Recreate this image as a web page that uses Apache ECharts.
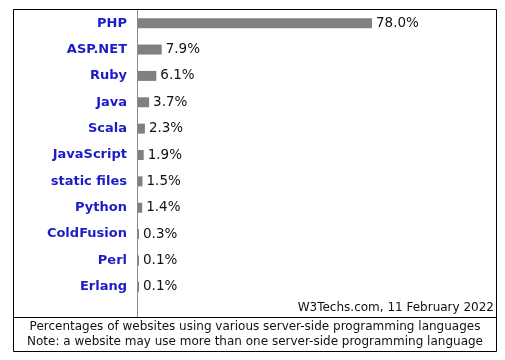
<!DOCTYPE html>
<html>
<head>
<meta charset="utf-8">
<script src="https://cdn.jsdelivr.net/npm/echarts@6/dist/echarts.min.js"></script>
<style>html,body{margin:0;padding:0;background:#fff}#c{width:505px;height:360px}</style>
</head>
<body>
<div id="c"></div>
<script>
const categories = ['PHP','ASP.NET','Ruby','Java','Scala','JavaScript','static files','Python','ColdFusion','Perl','Erlang'];
const shares = [78.0, 7.9, 6.1, 3.7, 2.3, 1.9, 1.5, 1.4, 0.3, 0.1, 0.1];
const sourceNote = 'W3Techs.com, 11 February 2022';
const captionLines = ['Percentages of websites using various server-side programming languages',
                      'Note: a website may use more than one server-side programming language'];

const FONT = 'DejaVu Sans';
const chart = echarts.init(document.getElementById('c'), null, {renderer:'canvas'});
chart.setOption({
  animation: false,
  backgroundColor: '#ffffff',
  grid: {left: 138, right: 7, top: 10, bottom: 60, containLabel: false},
  xAxis: {type: 'value', min: 0, max: 120, show: false},
  yAxis: {
    type: 'category', data: categories, inverse: true,
    axisLine: {show: false}, axisTick: {show: false}, splitLine: {show: false},
    axisLabel: {fontFamily: FONT, fontWeight: 'bold', fontSize: 13, color: '#1c1cc8', margin: 11}
  },
  series: [{
    type: 'bar', data: shares, barWidth: 10, barMinHeight: 1,
    itemStyle: {color: '#808080'},
    label: {show: true, position: 'right', distance: 4, fontFamily: FONT, fontSize: 13.5, color: '#111',
      formatter: p => p.value.toFixed(1) + '%'}
  }],
  graphic: [
    {type: 'rect', shape: {x: 13.5, y: 9.5, width: 483, height: 342}, style: {fill: 'none', stroke: '#000', lineWidth: 1}, silent: true},
    {type: 'line', shape: {x1: 13.5, y1: 317.5, x2: 496.5, y2: 317.5}, style: {stroke: '#000', lineWidth: 1}, silent: true},
    {type: 'line', shape: {x1: 137.5, y1: 10, x2: 137.5, y2: 317}, style: {stroke: '#8a8a8a', lineWidth: 1}, silent: true},
    {type: 'text', x: 494, y: 308, style: {text: sourceNote, font: '12px "DejaVu Sans"', fill: '#111', textAlign: 'right', textVerticalAlign: 'middle'}, silent: true},
    {type: 'text', x: 255, y: 326.5, style: {text: captionLines[0], font: '12px "DejaVu Sans"', fill: '#111', textAlign: 'center', textVerticalAlign: 'middle'}, silent: true},
    {type: 'text', x: 255, y: 341.5, style: {text: captionLines[1], font: '12px "DejaVu Sans"', fill: '#111', textAlign: 'center', textVerticalAlign: 'middle'}, silent: true}
  ]
});
</script>
</body>
</html>
